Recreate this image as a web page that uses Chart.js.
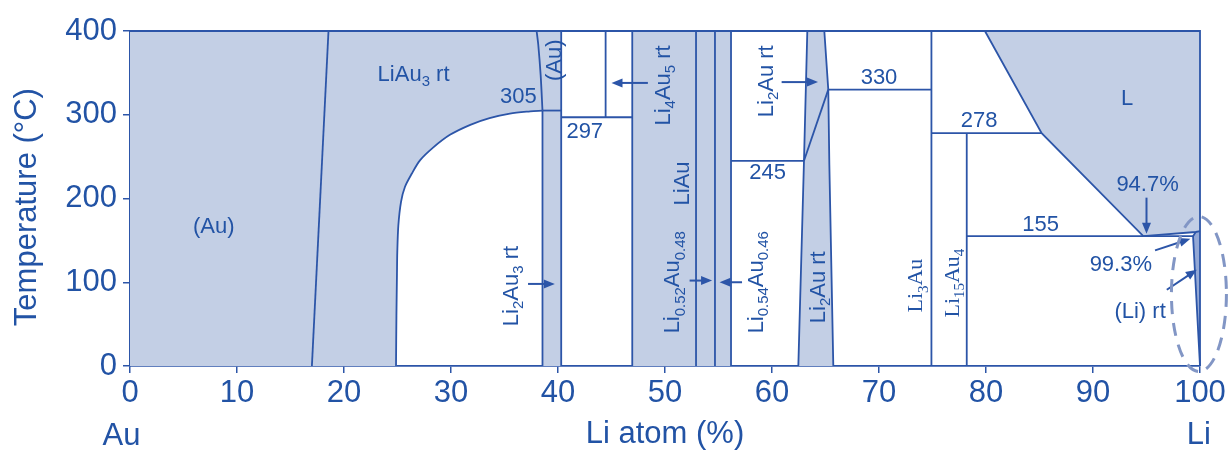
<!DOCTYPE html>
<html>
<head>
<meta charset="utf-8">
<script src="https://cdn.jsdelivr.net/npm/chart.js@4.4.1/dist/chart.umd.min.js"></script>
<style>
  html, body { margin: 0; padding: 0; background: #fff; }
</style>
</head>
<body>
<canvas id="phase" width="1229" height="455"></canvas>
<script>
// Au-Li phase diagram: temperature (°C) vs Li atom %
const xTickValues = [0, 10, 20, 30, 40, 50, 60, 70, 80, 90, 100];
const yTickValues = [0, 100, 200, 300, 400];

// phase boundaries, [Li %, T °C]
const frameLine = [[0, 400], [100, 400], [100, 0]];
const auSolvus = [[17, 0], [18.55, 400]];
const orderCurve = [
  [24.86, 0], [24.9, 60], [24.95, 110], [24.98, 136], [25.08, 168], [25.33, 196],
  [25.7, 214], [26.33, 229.5], [27.1, 245.5], [28.35, 261], [29.9, 276], [31.8, 288],
  [33.6, 296], [35.5, 301.4], [37.4, 304], [38.55, 305]
];
const auArc = [[38.0, 400], [38.16, 383], [38.38, 347], [38.55, 305]];
const line305 = [[38.55, 305], [40.3, 305]];
const li2Au3Left = [[38.55, 0], [38.55, 305]];
const li2Au3Right = [[40.3, 0], [40.3, 400]];
const line297 = [[40.3, 297], [46.94, 297]];
const li4Au5Line = [[44.45, 297], [44.45, 400]];
const liAuLeft = [[46.94, 0], [46.94, 400]];
const liAuMid1 = [[52.9, 0], [52.9, 400]];
const liAuMid2 = [[54.67, 0], [54.67, 400]];
const liAuRight = [[56.17, 0], [56.17, 400]];
const line245 = [[56.17, 245], [62.99, 245]];
const li2AuLeft = [[62.46, 0], [62.99, 245], [63.3, 400]];
const li2AuRight = [[65.73, 0], [65.36, 240], [65.26, 330], [64.89, 400]];
const li2AuSlope = [[62.99, 245], [65.26, 330]];
const line330 = [[65.26, 330], [74.9, 330]];
const li3AuLine = [[74.9, 0], [74.9, 400]];
const line278 = [[74.9, 278], [85.2, 278]];
const li15Au4Line = [[78.2, 0], [78.2, 278]];
const liquidus = [[79.9, 400], [85.2, 278], [94.7, 155], [99.6, 160], [100, 161]];
const line155 = [[78.2, 155], [99.35, 155]];
const liSolvus = [[99.6, 160], [99.35, 155], [100, 0]];

// shaded single-phase / liquid regions
const leftRegion = [[0, 0], ...orderCurve, [38.55, 0], [40.3, 0], [40.3, 400], [0, 400]];
const liAuBlock = [[46.94, 0], [56.17, 0], [56.17, 400], [46.94, 400]];
const li2AuBand = [...li2AuLeft, ...li2AuRight.slice().reverse()];
const liquidRegion = [...liquidus, [100, 400]];
const liRegion = [...liSolvus, [100, 161]];

const LINE = '#2c55a8';
const TEXT = '#2253a5';
const FILL = '#c3cfe5';
const FILL_DARK = '#93a8d5';
const DASH = '#8296c5';
const SANS = "'Liberation Sans', Arial, sans-serif";
const SERIF = "'Liberation Serif', 'Times New Roman', serif";

// text labels: [Li %, T, text, rotated, serif]
const labels = [
  [7.83, 168, '(Au)', false],
  [26.5, 350, 'LiAu_{3} rt', false],
  [36.3, 323, '305', false],
  [39.5, 365, '(Au)', true],
  [42.5, 282, '297', false],
  [49.7, 335, 'Li_{4}Au_{5} rt', true],
  [51.5, 218, 'LiAu', true],
  [35.5, 95.5, 'Li_{2}Au_{3} rt', true],
  [50.6, 100, 'Li_{0.52}Au_{0.48}', true],
  [58.4, 100, 'Li_{0.54}Au_{0.46}', true],
  [59.6, 233, '245', false],
  [59.35, 340, 'Li_{2}Au rt', true],
  [64.2, 94, 'Li_{2}Au rt', true],
  [70.0, 346.5, '330', false],
  [73.3, 96, 'Li_{3}Au', true, true],
  [76.7, 99, 'Li_{15}Au_{4}', true, true],
  [79.35, 295, '278', false],
  [93.2, 320.6, 'L', false],
  [85.1, 171, '155', false],
  [95.1, 218, '94.7%', false],
  [92.6, 122.6, '99.3%', false],
  [94.4, 66.5, '(Li) rt', false]
];

// arrows: [from Li %, from T, to Li %, to T]
const arrows = [
  [37.2, 98, 39.7, 98],
  [48.4, 338, 45.0, 338],
  [52.3, 102, 54.4, 102],
  [57.2, 100, 55.1, 100],
  [60.9, 339, 64.3, 339],
  [95.0, 201, 95.0, 158],
  [95.8, 138, 99.1, 152],
  [96.9, 91, 99.7, 115]
];

// dashed ellipse around the Li-rich corner: centre and radii in data units
const cornerEllipse = [99.9, 86, 2.57, 92.5];

function parseRich(str) {
  const out = [];
  const re = /_\{([^}]*)\}/g;
  let last = 0, m;
  while ((m = re.exec(str))) {
    if (m.index > last) out.push([str.slice(last, m.index), false]);
    out.push([m[1], true]);
    last = re.lastIndex;
  }
  if (last < str.length) out.push([str.slice(last), false]);
  return out;
}

function drawRich(ctx, str, x, y, size, family, rotated) {
  const parts = parseRich(str);
  const subSize = size * 0.68;
  ctx.save();
  ctx.translate(x, y);
  if (rotated) ctx.rotate(-Math.PI / 2);
  let w = 0;
  parts.forEach(([t, sub]) => {
    ctx.font = `${sub ? subSize : size}px ${family}`;
    w += ctx.measureText(t).width;
  });
  let cx = -w / 2;
  ctx.textAlign = 'left';
  ctx.textBaseline = 'alphabetic';
  const base = size * 0.36;
  parts.forEach(([t, sub]) => {
    ctx.font = `${sub ? subSize : size}px ${family}`;
    ctx.fillText(t, cx, base + (sub ? size * 0.24 : 0));
    cx += ctx.measureText(t).width;
  });
  ctx.restore();
}

function drawArrow(ctx, x1, y1, x2, y2) {
  const a = Math.atan2(y2 - y1, x2 - x1);
  const head = 11, half = 4.5;
  ctx.beginPath();
  ctx.moveTo(x1, y1);
  ctx.lineTo(x2 - Math.cos(a) * head * 0.8, y2 - Math.sin(a) * head * 0.8);
  ctx.stroke();
  ctx.beginPath();
  ctx.moveTo(x2, y2);
  ctx.lineTo(x2 - head * Math.cos(a) + half * Math.sin(a), y2 - head * Math.sin(a) - half * Math.cos(a));
  ctx.lineTo(x2 - head * Math.cos(a) - half * Math.sin(a), y2 - head * Math.sin(a) + half * Math.cos(a));
  ctx.closePath();
  ctx.fill();
}

const annotations = {
  id: 'annotations',
  afterDatasetsDraw(chart) {
    const { ctx, scales: { x, y }, chartArea } = chart;
    ctx.save();
    ctx.fillStyle = TEXT;
    labels.forEach(([lx, ly, text, rotated, serif]) => {
      drawRich(ctx, text, x.getPixelForValue(lx), y.getPixelForValue(ly), 22, serif ? SERIF : SANS, rotated);
    });

    ctx.strokeStyle = LINE;
    ctx.fillStyle = LINE;
    ctx.lineWidth = 2;
    arrows.forEach(([x1, y1, x2, y2]) => {
      drawArrow(ctx, x.getPixelForValue(x1), y.getPixelForValue(y1), x.getPixelForValue(x2), y.getPixelForValue(y2));
    });

    // Au / Li end members under the axis
    ctx.fillStyle = TEXT;
    drawRich(ctx, 'Au', x.getPixelForValue(-0.8), chartArea.bottom + 68, 31, SANS, false);
    drawRich(ctx, 'Li', x.getPixelForValue(99.9), chartArea.bottom + 67, 31, SANS, false);

    const [ex, ey, erx, ery] = cornerEllipse;
    const cx = x.getPixelForValue(ex), cy = y.getPixelForValue(ey);
    const rx = Math.abs(x.getPixelForValue(ex + erx) - cx);
    const ry = Math.abs(y.getPixelForValue(ey + ery) - cy);
    ctx.strokeStyle = DASH;
    ctx.lineWidth = 3;
    ctx.setLineDash([13, 9]);
    ctx.beginPath();
    ctx.ellipse(cx, cy, rx, ry, 0, 0, Math.PI * 2);
    ctx.stroke();
    ctx.restore();
  }
};

const pts = arr => arr.map(([x, y]) => ({ x, y }));
const boundary = (arr, tension = 0) => ({
  data: pts(arr), borderColor: LINE, borderWidth: 1.8, fill: false,
  tension, order: 1, clip: 4, pointRadius: 0
});
const region = (arr, color) => ({
  data: pts(arr), borderColor: 'rgba(0,0,0,0)', borderWidth: 0,
  backgroundColor: color, fill: 'shape', order: 5, pointRadius: 0
});

const datasets = [
  region(leftRegion, FILL),
  region(liAuBlock, FILL),
  region(li2AuBand, FILL),
  region(liquidRegion, FILL),
  region(liRegion, FILL_DARK),
  boundary(frameLine),
  boundary(auSolvus),
  boundary(orderCurve, 0.3),
  boundary(auArc, 0.3),
  boundary(line305),
  boundary(li2Au3Left),
  boundary(li2Au3Right),
  boundary(line297),
  boundary(li4Au5Line),
  boundary(liAuLeft),
  boundary(liAuMid1),
  boundary(liAuMid2),
  boundary(liAuRight),
  boundary(line245),
  boundary(li2AuLeft),
  boundary(li2AuRight),
  boundary(li2AuSlope),
  boundary(line330),
  boundary(li3AuLine),
  boundary(line278),
  boundary(li15Au4Line),
  boundary(liquidus),
  boundary(line155),
  boundary(liSolvus)
];

const axisFont = { size: 31, family: SANS };

new Chart(document.getElementById('phase'), {
  type: 'line',
  data: { datasets },
  options: {
    responsive: false,
    animation: false,
    layout: { padding: { top: 31, right: 29, left: 0, bottom: 0 } },
    plugins: { legend: { display: false }, tooltip: { enabled: false } },
    elements: { point: { radius: 0 } },
    scales: {
      x: {
        type: 'linear', min: 0, max: 100,
        afterBuildTicks: s => { s.ticks = xTickValues.map(v => ({ value: v })); },
        afterFit: s => { s.height = 89; },
        ticks: { color: TEXT, font: axisFont, padding: 2, maxRotation: 0, autoSkip: false },
        grid: { drawOnChartArea: false, tickLength: 7, color: LINE, lineWidth: 1.5 },
        border: { display: true, color: LINE, width: 1.8 },
        title: { display: true, text: 'Li atom (%)', color: TEXT, font: axisFont, padding: { top: 0, bottom: 2 } }
      },
      y: {
        type: 'linear', min: 0, max: 400,
        afterBuildTicks: s => { s.ticks = yTickValues.map(v => ({ value: v })); },
        afterFit: s => { s.width = 130; },
        ticks: { color: TEXT, font: axisFont, padding: 6 },
        grid: { drawOnChartArea: false, tickLength: 7, color: LINE, lineWidth: 1.5 },
        border: { display: true, color: LINE, width: 1.8 },
        title: { display: true, text: 'Temperature (°C)  ', color: TEXT, font: axisFont, padding: { top: 9, bottom: 0 } }
      }
    }
  },
  plugins: [annotations]
});
</script>
</body>
</html>
